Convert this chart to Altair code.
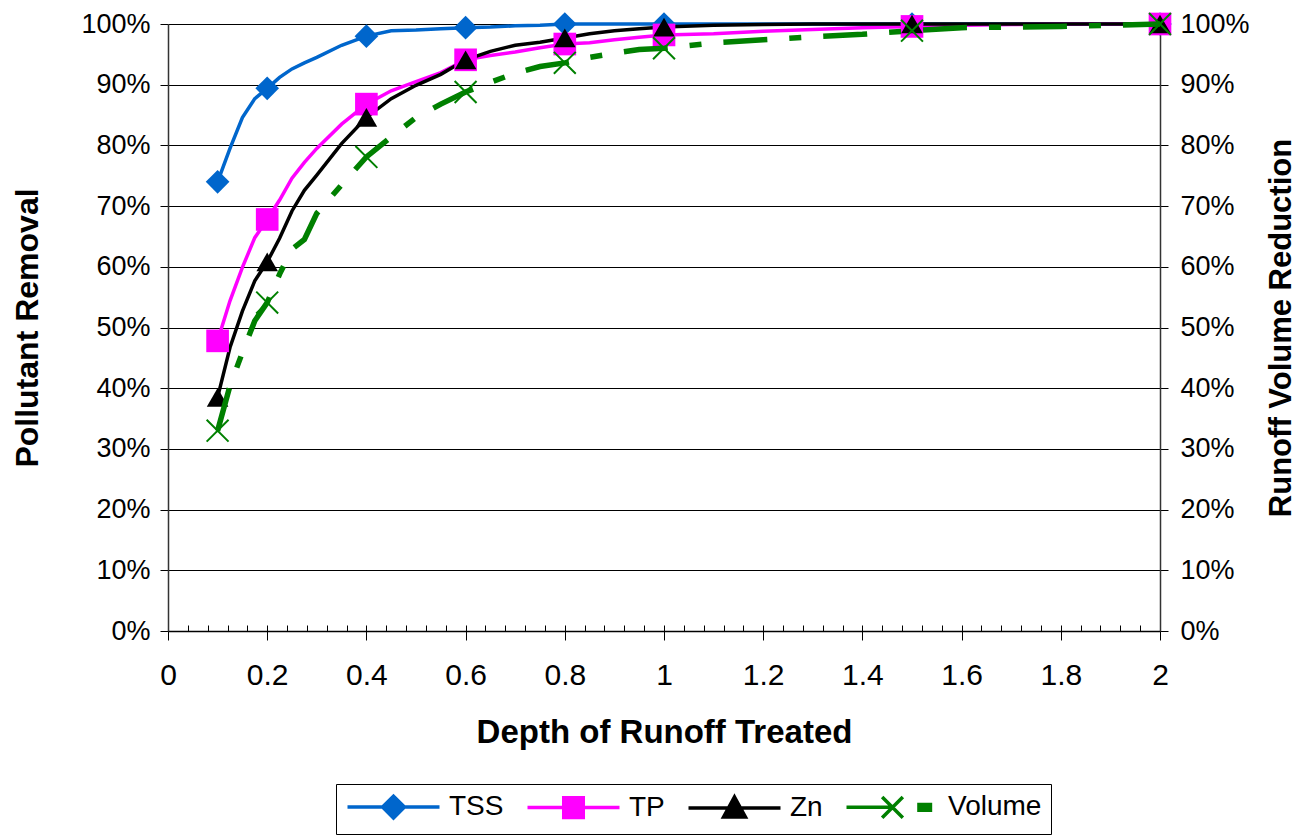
import altair as alt
import pandas as pd

# ---------------- data ----------------
depth = [0.1, 0.125, 0.15, 0.175, 0.2, 0.225, 0.25, 0.275, 0.3, 0.35, 0.4, 0.45, 0.5,
         0.55, 0.6, 0.65, 0.7, 0.75, 0.8, 0.85, 0.9, 0.95, 1.0, 1.1, 1.2, 1.3, 1.4,
         1.5, 1.6, 1.7, 1.8, 1.9, 2.0]
tss = [74.0, 79.5, 84.6, 87.7, 89.4, 91.2, 92.6, 93.6, 94.5, 96.5, 98.0, 98.9, 99.0,
       99.2, 99.4, 99.5, 99.7, 99.8, 100, 100, 100, 100, 100, 100, 100, 100, 100,
       100, 100, 100, 100, 100, 100]
tp = [47.8, 54.4, 59.9, 64.8, 67.8, 71.0, 74.6, 77.2, 79.5, 83.5, 86.8, 89.0, 90.5,
      92.0, 94.1, 94.8, 95.4, 96.1, 96.7, 96.9, 97.4, 97.8, 98.2, 98.4, 98.8, 99.1, 99.4,
      99.6, 99.8, 99.9, 100, 100, 100]
zn = [38.5, 46.7, 52.7, 57.7, 60.8, 64.7, 69.2, 72.6, 75.1, 80.3, 84.6, 87.7, 89.9,
      91.7, 94.1, 95.5, 96.5, 97.0, 97.7, 98.4, 98.9, 99.2, 99.5, 99.8, 99.9, 100, 100,
      100, 100, 100, 100, 100, 100]
vol = [33.0, 40.4, 45.9, 51.1, 54.1, 58.8, 62.9, 64.5, 68.8, 73.5, 78.1, 81.4, 84.6,
       86.8, 88.8, 90.4, 91.9, 93.0, 93.6, 94.5, 95.2, 95.8, 96.0, 96.9, 97.4, 97.9, 98.3,
       98.9, 99.4, 99.5, 99.6, 99.8, 100]
marker_depths = [0.1, 0.2, 0.4, 0.6, 0.8, 1.0, 1.5, 2.0]

series_names = ["TSS", "TP", "Zn", "Volume"]
series_colors = ["#0066CC", "#FF00FF", "#000000", "#008000"]

x_ticks = [0, 0.2, 0.4, 0.6, 0.8, 1, 1.2, 1.4, 1.6, 1.8, 2]
x_minor = [0, 0.04, 0.08, 0.12, 0.16, 0.2, 0.24, 0.28, 0.32, 0.36, 0.4, 0.44, 0.48,
           0.52, 0.56, 0.6, 0.64, 0.68, 0.72, 0.76, 0.8, 0.84, 0.88, 0.92, 0.96, 1,
           1.04, 1.08, 1.12, 1.16, 1.2, 1.24, 1.28, 1.32, 1.36, 1.4, 1.44, 1.48, 1.52,
           1.56, 1.6, 1.64, 1.68, 1.72, 1.76, 1.8, 1.84, 1.88, 1.92, 1.96, 2]
y_ticks = [0, 10, 20, 30, 40, 50, 60, 70, 80, 90, 100]

# ---------------- tables ----------------
rows = []
for si, (name, vals) in enumerate(zip(series_names, [tss, tp, zn, vol])):
    for i, (d, v) in enumerate(zip(depth, vals)):
        rows.append({"series": name, "sidx": si, "depth": d, "value": v,
                     "order": i, "marker": d in marker_depths})
df = pd.DataFrame(rows)
pol = df[df.series != "Volume"]
vdf = df[df.series == "Volume"]
pol_m = pol[pol.marker]
vdf_m = vdf[vdf.marker]

FONT = "Liberation Sans"
W, H = 992, 607

x_scale = alt.Scale(domain=[0, 2], nice=False, zero=False)
y_scale = alt.Scale(domain=[0, 100], nice=False, zero=True)
color_scale = alt.Scale(domain=series_names, range=series_colors)

# marker shapes in the plot
plot_shapes = ["diamond", "square", "triangle-up", "M-1,-1L1,1M-1,1L1,-1"]


# legend symbols: line + (solid-looking) marker, built from nested outlines
def _poly(pts):
    return "M" + "L".join(f"{x:.3f},{y:.3f}" for x, y in pts) + "Z"


def _nested(verts, center, factors):
    cx, cy = center
    out = ""
    for f in factors:
        out += _poly([(cx + f * (x - cx), cy + f * (y - cy)) for x, y in verts])
    return out


LINE = "M-1,0H7"
FACT = [1, 0.78, 0.56, 0.34, 0.12]
diamond = _nested([(3, -0.95), (3.95, 0), (3, 0.95), (2.05, 0)], (3, 0), FACT)
square = _nested([(2.15, -0.85), (3.85, -0.85), (3.85, 0.85), (2.15, 0.85)], (3, 0), FACT)
tri = _nested([(3, -0.95), (3.95, 0.8), (2.05, 0.8)], (3, 0.217), FACT)
legend_shapes = [
    LINE + diamond,
    LINE + square,
    LINE + tri,
    "M-1,0H3M2.1,-0.9L3.9,0.9M2.1,0.9L3.9,-0.9" + _nested(
        [(5.3, -0.25), (6.3, -0.25), (6.3, 0.25), (5.3, 0.25)], (5.8, 0), [1, 0.5]),
]

left_axis = alt.Axis(
    orient="left", values=y_ticks, labelExpr="datum.value + '%'",
    title="Pollutant Removal", titleFontSize=32, titleFontWeight="bold",
    titleFont=FONT, titleColor="#000", titleAngle=270, titleBaseline="alphabetic",
    titleX=-131, titleY=H / 2, titleAlign="center",
    labelFontSize=27, labelFont=FONT, labelColor="#000", labelPadding=10,
    tickSize=8, tickColor="#000", domainColor="#333", domainWidth=1.5,
    grid=True, gridColor="#000", gridWidth=1,
)
right_axis = alt.Axis(
    orient="right", values=y_ticks, labelExpr="datum.value + '%'",
    title="Runoff Volume Reduction", titleFontSize=31, titleFontWeight="bold",
    titleFont=FONT, titleColor="#000", titleAngle=270, titleBaseline="alphabetic",
    titleX=130, titleY=H / 2, titleAlign="center",
    labelFontSize=27, labelFont=FONT, labelColor="#000", labelPadding=12,
    tickSize=8, tickColor="#000", domainColor="#333", domainWidth=1.5,
    grid=False,
)
bottom_axis = alt.Axis(
    orient="bottom", values=x_ticks, format="~g", labelFlush=False, labelOverlap=False,
    title="Depth of Runoff Treated", titleFontSize=33, titleFontWeight="bold",
    titleFont=FONT, titleColor="#000", titleBaseline="alphabetic",
    titleY=111, titleX=W / 2, titleAlign="center",
    labelFontSize=30, labelFont=FONT, labelColor="#000", labelPadding=20,
    tickSize=9, tickColor="#000", domainColor="#000", domainWidth=1.5, grid=False,
)
minor_axis = alt.Axis(
    orient="top", offset=-H, values=x_minor, labels=False, domain=False,
    tickSize=6, tickColor="#000", grid=False, title=None,
)

pol_lines = alt.Chart(pol).mark_line(strokeWidth=3.5).encode(
    x=alt.X("depth:Q", scale=x_scale, axis=bottom_axis),
    y=alt.Y("value:Q", scale=y_scale, axis=left_axis),
    color=alt.Color("series:N", scale=color_scale, legend=None),
    detail="sidx:O",
    order="order:Q",
)

pol_points = alt.Chart(pol_m).mark_point(filled=True, opacity=1, strokeWidth=0).encode(
    x=alt.X("depth:Q", scale=x_scale, axis=None),
    y=alt.Y("value:Q", scale=y_scale, axis=None),
    color=alt.Color("series:N", scale=color_scale, legend=None),
    shape=alt.Shape("series:N", scale=alt.Scale(domain=series_names, range=plot_shapes), legend=None),
    size=alt.Size("series:N", scale=alt.Scale(domain=series_names, range=[560, 420, 580, 480]), legend=None),
)

vol_line = alt.Chart(vdf).mark_line(strokeWidth=5.5, strokeDash=[44, 22, 12, 22]).encode(
    x=alt.X("depth:Q", scale=x_scale, axis=minor_axis),
    y=alt.Y("value:Q", scale=y_scale, axis=right_axis),
    color=alt.Color("series:N", scale=color_scale, legend=None),
    order="order:Q",
)

vol_points = alt.Chart(vdf_m).mark_point(filled=False, opacity=1, strokeWidth=2, size=480).encode(
    x=alt.X("depth:Q", scale=x_scale, axis=None),
    y=alt.Y("value:Q", scale=y_scale, axis=None),
    color=alt.Color("series:N", scale=color_scale, legend=None),
    shape=alt.Shape("series:N", scale=alt.Scale(domain=series_names, range=plot_shapes), legend=None),
)

leg = alt.Legend(
    orient="none", legendX=168, legendY=760, direction="horizontal", title=None,
    labelFontSize=28, labelFont=FONT, labelColor="#000", labelOffset=76,
    symbolSize=529, symbolStrokeWidth=3.5, symbolOpacity=1, columnPadding=16,
    padding=9, strokeColor="#000", fillColor="#fff",
)
legend_layer = alt.Chart(pol_m).transform_filter("false").mark_point(
    filled=False, opacity=1, strokeWidth=3.5, size=529
).encode(
    x=alt.X("depth:Q", scale=x_scale, axis=None),
    y=alt.Y("value:Q", scale=y_scale, axis=None),
    color=alt.Color("series:N", scale=color_scale, legend=leg),
    shape=alt.Shape("series:N", scale=alt.Scale(domain=series_names, range=legend_shapes), legend=leg),
)

chart = alt.layer(
    pol_lines, pol_points, vol_line, vol_points, legend_layer
).resolve_scale(
    y="independent", shape="independent", size="independent", color="independent"
).resolve_axis(
    x="independent", y="independent"
).properties(
    width=W, height=H,
    padding={"left": 160, "top": 16, "right": 138, "bottom": 207},
    autosize=alt.AutoSizeParams(type="none"),
).configure_view(strokeWidth=0).configure(font=FONT)

chart.save("out.html", embed_options={"renderer": "svg", "actions": False})
